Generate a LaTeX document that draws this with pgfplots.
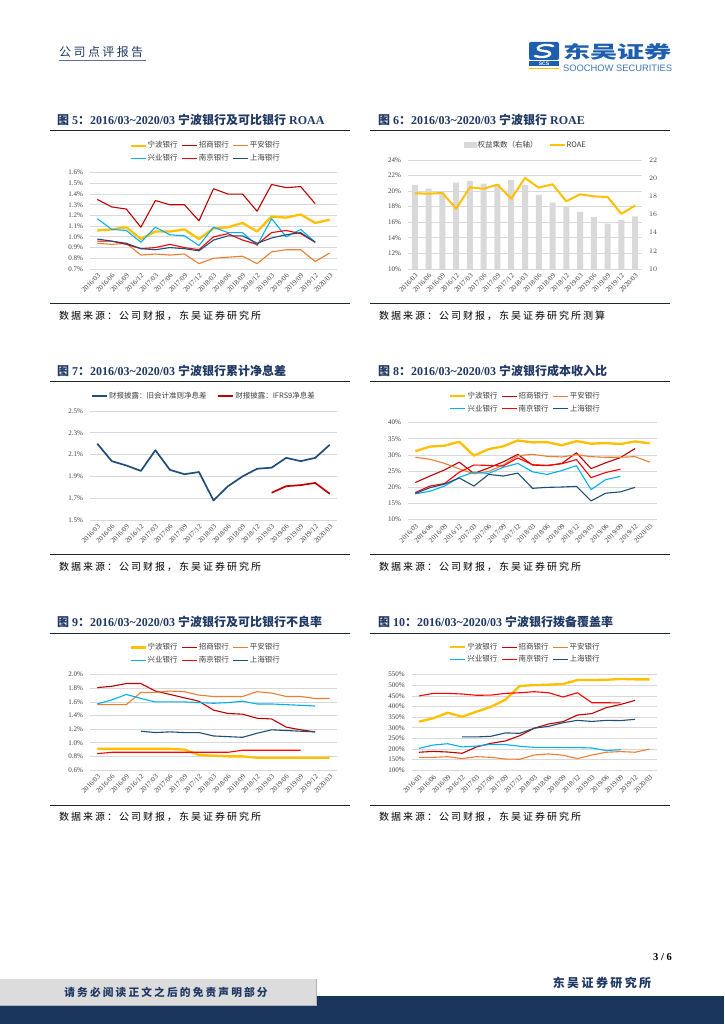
\documentclass[border=0pt]{standalone}
\usepackage{fontspec}
\usepackage{graphicx}
\usepackage{pgfplots}
\pgfplotsset{compat=1.18}
\setmainfont{Liberation Serif}
\newfontfamily\cjk{Noto Sans CJK SC}
\newfontfamily\cjksp[LetterSpace=20]{Noto Sans CJK SC}
\newfontfamily\logosans{Liberation Sans}

\definecolor{navy}{HTML}{1F3864}
\definecolor{band}{HTML}{1B365D}
\definecolor{rule}{HTML}{1E2633}
\definecolor{nbY}{HTML}{FFC000}
\definecolor{cmbR}{HTML}{C00000}
\definecolor{paO}{HTML}{ED7D31}
\definecolor{ibC}{HTML}{00B0F0}
\definecolor{njR}{HTML}{FF0000}
\definecolor{shB}{HTML}{1F4E79}
\definecolor{gridg}{HTML}{D9D9D9}
\definecolor{tickg}{HTML}{404040}
\definecolor{legg}{HTML}{404040}
\definecolor{barg}{HTML}{D9D9D9}
\definecolor{logoB}{HTML}{1D5FAE}
\definecolor{footg}{HTML}{DCDCDC}

\pgfplotsset{
  legend image code/.code={\draw[#1] (0pt,0pt) -- (15pt,0pt);},
  bank/.style={
    scale only axis, anchor=south west,
    xmin=-0.5, xmax=16.5,
    xtick={0,...,16},
    xticklabels={2016/03,2016/06,2016/09,2016/12,2017/03,2017/06,2017/09,2017/12,2018/03,2018/06,2018/09,2018/12,2019/03,2019/06,2019/09,2019/12,2020/03},
    x tick label style={rotate=45, anchor=north east, font=\fontsize{7}{7}\selectfont, text=tickg, inner sep=0.5pt},
    xticklabel shift=3pt,
    y tick label style={font=\fontsize{7}{8}\selectfont, text=tickg},
    yticklabel shift=3.5pt,
    major tick length=0pt,
    axis x line*=bottom, axis y line*=left,
    y axis line style={draw=none},
    x axis line style={draw=gridg, line width=0.8pt},
    ymajorgrids, grid style={draw=gridg, line width=0.8pt},
    no markers,
    every axis plot/.append style={line join=round},
    legend style={draw=none, fill=none, font=\cjk\fontsize{7.5}{9}\selectfont, text=legg, anchor=center,
      nodes={inner sep=1pt, text height=6pt, text depth=1.5pt},
      /tikz/every even column/.append style={column sep=3pt}, /tikz/row sep=3pt},
    legend cell align=left,
  },
  nb/.style={draw=nbY, line width=2.3pt},
  cmb/.style={draw=cmbR, line width=1.1pt},
  pa/.style={draw=paO, line width=1.1pt},
  ib/.style={draw=ibC, line width=1.1pt},
  nj/.style={draw=njR, line width=1.1pt},
  sh/.style={draw=shB, line width=1.1pt},
}

\begin{document}
\begin{tikzpicture}
\path[use as bounding box] (0pt,0pt) rectangle (724pt,1024pt);
\fill[white] (0pt,0pt) rectangle (724pt,1024pt);

% header
\node[anchor=west, inner sep=0pt, text=navy, font=\cjksp\fontsize{12}{14}\selectfont] at (59pt,972pt) {公司点评报告};
\draw[navy!70, line width=0.8pt] (59pt,964pt) -- (146pt,964pt);
% logo
\fill[logoB, rounded corners=2pt] (529pt,964pt) rectangle (559pt,982pt);
\draw[white, line width=2.4pt, line cap=round] (553pt,978pt) .. controls (541pt,982pt) and (531pt,974pt) .. (544pt,973pt) .. controls (557pt,972pt) and (547pt,964pt) .. (535pt,968pt);
\fill[logoB] (529pt,957.5pt) rectangle (559pt,962.5pt);
\node[inner sep=0pt, text=white, font=\logosans\bfseries\fontsize{5}{5}\selectfont] at (544pt,960pt) {SCS};
\draw[nbY, line width=1.2pt] (529pt,955.5pt) -- (559pt,955.5pt);
\node[anchor=west, inner sep=0pt, text=logoB] at (563pt,972pt) {\resizebox{109pt}{15pt}{\cjk\bfseries 东吴证券}};
\node[anchor=west, inner sep=0pt, text=logoB!85] at (563pt,956pt) {\resizebox{109pt}{!}{\logosans SOOCHOW SECURITIES}};

% frames row 1
\node[anchor=west, inner sep=0pt, text=navy, font=\bfseries\fontsize{12}{14}\selectfont] at (57pt,904pt) {{\cjk 图} 5{\cjk ：}2016/03\textasciitilde 2020/03 {\cjk 宁波银行及可比银行} ROAA};
\draw[rule, line width=1pt] (50pt,893pt) -- (350pt,893pt);
\draw[rule, line width=1pt] (50pt,720pt) -- (350pt,720pt);
\node[anchor=west, inner sep=0pt, font=\cjksp\fontsize{10}{12}\selectfont] at (59pt,708pt) {数据来源：公司财报，东吴证券研究所};
\node[anchor=west, inner sep=0pt, text=navy, font=\bfseries\fontsize{12}{14}\selectfont] at (378pt,904pt) {{\cjk 图} 6{\cjk ：}2016/03\textasciitilde 2020/03 {\cjk 宁波银行} ROAE};
\draw[rule, line width=1pt] (370pt,893pt) -- (670pt,893pt);
\draw[rule, line width=1pt] (370pt,720pt) -- (670pt,720pt);
\node[anchor=west, inner sep=0pt, font=\cjksp\fontsize{10}{12}\selectfont] at (379pt,708pt) {数据来源：公司财报，东吴证券研究所测算};
% row 2
\node[anchor=west, inner sep=0pt, text=navy, font=\bfseries\fontsize{12}{14}\selectfont] at (57pt,653pt) {{\cjk 图} 7{\cjk ：}2016/03\textasciitilde 2020/03 {\cjk 宁波银行累计净息差}};
\draw[rule, line width=1pt] (50pt,642.3pt) -- (350pt,642.3pt);
\draw[rule, line width=1pt] (50pt,469pt) -- (350pt,469pt);
\node[anchor=west, inner sep=0pt, font=\cjksp\fontsize{10}{12}\selectfont] at (59pt,457pt) {数据来源：公司财报，东吴证券研究所};
\node[anchor=west, inner sep=0pt, text=navy, font=\bfseries\fontsize{12}{14}\selectfont] at (378pt,653pt) {{\cjk 图} 8{\cjk ：}2016/03\textasciitilde 2020/03 {\cjk 宁波银行成本收入比}};
\draw[rule, line width=1pt] (370pt,642.3pt) -- (670pt,642.3pt);
\draw[rule, line width=1pt] (370pt,469pt) -- (670pt,469pt);
\node[anchor=west, inner sep=0pt, font=\cjksp\fontsize{10}{12}\selectfont] at (379pt,457pt) {数据来源：公司财报，东吴证券研究所};
% row 3
\node[anchor=west, inner sep=0pt, text=navy, font=\bfseries\fontsize{12}{14}\selectfont] at (57pt,401.7pt) {{\cjk 图} 9{\cjk ：}2016/03\textasciitilde 2020/03 {\cjk 宁波银行及可比银行不良率}};
\draw[rule, line width=1pt] (50pt,390.7pt) -- (350pt,390.7pt);
\draw[rule, line width=1pt] (50pt,218.3pt) -- (350pt,218.3pt);
\node[anchor=west, inner sep=0pt, font=\cjksp\fontsize{10}{12}\selectfont] at (59pt,207pt) {数据来源：公司财报，东吴证券研究所};
\node[anchor=west, inner sep=0pt, text=navy, font=\bfseries\fontsize{12}{14}\selectfont] at (378pt,401.7pt) {{\cjk 图} 10{\cjk ：}2016/03\textasciitilde 2020/03 {\cjk 宁波银行拨备覆盖率}};
\draw[rule, line width=1pt] (370pt,390.7pt) -- (670pt,390.7pt);
\draw[rule, line width=1pt] (370pt,218.3pt) -- (670pt,218.3pt);
\node[anchor=west, inner sep=0pt, font=\cjksp\fontsize{10}{12}\selectfont] at (379pt,207pt) {数据来源：公司财报，东吴证券研究所};

% footer
\node[anchor=east, inner sep=0pt, font=\bfseries\fontsize{10.5}{12}\selectfont] at (672pt,67pt) {3 / 6};
\node[inner sep=0pt, text=navy, font=\cjksp\bfseries\fontsize{12}{14}\selectfont] at (602pt,41pt) {东吴证券研究所};
\fill[band] (0pt,0pt) rectangle (724pt,28pt);
\fill[footg] (0pt,19pt) rectangle (316pt,45pt);
\draw[gray!60, line width=0.6pt] (0pt,19pt) -- (316pt,19pt) -- (316pt,45pt);
\node[inner sep=0pt, text=navy, font=\cjksp\bfseries\fontsize{10.7}{12}\selectfont] at (166pt,32pt) {请务必阅读正文之后的免责声明部分};

% ---- Fig 5 ROAA
\begin{axis}[bank, at={(90pt,755pt)}, width=247pt, height=96.3pt, ymin=0.7, ymax=1.6,
  ytick={0.7,0.8,0.9,1.0,1.1,1.2,1.3,1.4,1.5,1.6},
  yticklabels={0.7\%,0.8\%,0.9\%,1.0\%,1.1\%,1.2\%,1.3\%,1.4\%,1.5\%,1.6\%},
  legend columns=3, legend style={at={(0.466,1.215)}}]
\addplot[nb] coordinates {(0,1.06)(1,1.07)(2,1.09)(3,0.98)(4,1.05)(5,1.05)(6,1.07)(7,0.98)(8,1.08)(9,1.09)(10,1.13)(11,1.05)(12,1.19)(13,1.18)(14,1.21)(15,1.13)(16,1.16)};
\addlegendentry{宁波银行}
\addplot[cmb] coordinates {(0,1.35)(1,1.28)(2,1.26)(3,1.09)(4,1.34)(5,1.30)(6,1.30)(7,1.15)(8,1.45)(9,1.40)(10,1.40)(11,1.24)(12,1.49)(13,1.46)(14,1.47)(15,1.31)};
\addlegendentry{招商银行}
\addplot[pa] coordinates {(0,0.94)(1,0.93)(2,0.94)(3,0.83)(4,0.84)(5,0.83)(6,0.84)(7,0.75)(8,0.80)(9,0.81)(10,0.82)(11,0.75)(12,0.86)(13,0.88)(14,0.88)(15,0.77)(16,0.85)};
\addlegendentry{平安银行}
\addplot[ib] coordinates {(0,1.17)(1,1.07)(2,1.06)(3,0.95)(4,1.09)(5,1.02)(6,1.01)(7,0.92)(8,1.09)(9,1.04)(10,1.04)(11,0.92)(12,1.17)(13,1.00)(14,1.07)(15,0.95)};
\addlegendentry{兴业银行}
\addplot[nj] coordinates {(0,0.96)(1,0.96)(2,0.93)(3,0.89)(4,0.90)(5,0.93)(6,0.90)(7,0.88)(8,1.00)(9,1.03)(10,0.97)(11,0.93)(12,1.04)(13,1.06)(14,1.03)(15,0.95)};
\addlegendentry{南京银行}
\addplot[sh] coordinates {(0,0.98)(1,0.96)(2,0.94)(3,0.89)(4,0.88)(5,0.90)(6,0.89)(7,0.87)(8,0.97)(9,1.01)(10,1.01)(11,0.94)(12,0.99)(13,1.02)(14,1.04)(15,0.95)};
\addlegendentry{上海银行}
\end{axis}

% ---- Fig 6 ROAE (grid + left labels)
\begin{axis}[bank, at={(408pt,755pt)}, width=234pt, height=109pt, ymin=10, ymax=24,
  ytick={10,12,14,16,18,20,22,24},
  yticklabels={10\%,12\%,14\%,16\%,18\%,20\%,22\%,24\%}]
\addplot[draw=none] coordinates {(0,10)};
\end{axis}
\begin{axis}[bank, at={(408pt,755pt)}, width=234pt, height=109pt, ymin=10, ymax=22,
  axis y line*=right, ymajorgrids=false, ytick={10,12,14,16,18,20,22},
  xticklabels={}, x axis line style={draw=none}]
\addplot[ybar, bar width=6pt, bar shift=0pt, fill=barg, draw=none] coordinates {(0,19.25)(1,18.84)(2,18.4)(3,19.5)(4,19.69)(5,19.4)(6,19.36)(7,19.77)(8,19.25)(9,18.15)(10,17.3)(11,16.9)(12,16.3)(13,15.7)(14,15.0)(15,15.4)(16,15.8)};
\end{axis}
\begin{axis}[bank, at={(408pt,755pt)}, width=234pt, height=109pt, ymin=10, ymax=24, hide axis,
  legend columns=2, legend style={at={(0.502,1.138)}, /tikz/every even column/.append style={column sep=10pt}}]
\addlegendimage{legend image code/.code={\fill[barg] (0pt,-2.5pt) rectangle (12pt,2.5pt);}}
\addlegendentry{权益乘数（右轴）}
\addplot[draw=nbY, line width=2pt] coordinates {(0,19.72)(1,19.67)(2,19.76)(3,17.75)(4,20.49)(5,20.31)(6,20.83)(7,19.03)(8,21.69)(9,20.44)(10,20.88)(11,18.70)(12,19.59)(13,19.33)(14,19.25)(15,17.08)(16,18.15)};
\addlegendentry{ROAE}
\end{axis}

% ---- Fig 7 NIM
\begin{axis}[bank, at={(90pt,504pt)}, width=247pt, height=109pt, ymin=1.5, ymax=2.5,
  ytick={1.5,1.7,1.9,2.1,2.3,2.5},
  yticklabels={1.5\%,1.7\%,1.9\%,2.1\%,2.3\%,2.5\%},
  legend columns=2, legend style={at={(0.46,1.138)}, /tikz/every even column/.append style={column sep=10pt}}]
\addplot[draw=shB, line width=1.7pt] coordinates {(0,2.20)(1,2.04)(2,2.00)(3,1.95)(4,2.14)(5,1.96)(6,1.92)(7,1.94)(8,1.68)(9,1.81)(10,1.90)(11,1.97)(12,1.98)(13,2.07)(14,2.04)(15,2.07)(16,2.19)};
\addlegendentry{财报披露：旧会计准则净息差}
\addplot[draw=cmbR, line width=1.7pt] coordinates {(12,1.75)(13,1.81)(14,1.82)(15,1.84)(16,1.74)};
\addlegendentry{财报披露：IFRS9净息差}
\end{axis}

% ---- Fig 8 cost-income
\begin{axis}[bank, at={(408pt,504.3pt)}, width=249pt, height=97pt, ymin=10, ymax=40,
  ytick={10,15,20,25,30,35,40},
  yticklabels={10\%,15\%,20\%,25\%,30\%,35\%,40\%},
  legend columns=3, legend style={at={(0.47,1.208)}}]
\addplot[nb] coordinates {(0,31.2)(1,32.6)(2,32.9)(3,34.1)(4,29.8)(5,31.8)(6,32.7)(7,34.5)(8,33.9)(9,34.0)(10,33.0)(11,34.3)(12,33.5)(13,33.7)(14,33.4)(15,34.2)(16,33.6)};
\addlegendentry{宁波银行}
\addplot[cmb] coordinates {(0,21.5)(1,23.5)(2,25.4)(3,27.8)(4,24.3)(5,26.0)(6,27.9)(7,30.2)(8,26.9)(9,26.7)(10,27.4)(11,30.7)(12,25.8)(13,27.6)(14,29.2)(15,32.0)};
\addlegendentry{招商银行}
\addplot[pa] coordinates {(0,29.3)(1,28.7)(2,27.4)(3,25.7)(4,24.2)(5,24.9)(6,26.9)(7,29.8)(8,30.2)(9,29.6)(10,29.4)(11,30.1)(12,29.5)(13,29.3)(14,29.3)(15,29.5)(16,27.8)};
\addlegendentry{平安银行}
\addplot[ib] coordinates {(0,18.0)(1,18.8)(2,20.4)(3,23.1)(4,24.7)(5,24.3)(6,26.2)(7,27.4)(8,24.8)(9,24.0)(10,25.2)(11,26.7)(12,19.3)(13,22.4)(14,23.4)};
\addlegendentry{兴业银行}
\addplot[nj] coordinates {(0,18.4)(1,20.4)(2,21.2)(3,24.7)(4,26.9)(5,26.8)(6,26.6)(7,29.1)(8,27.0)(9,26.8)(10,27.3)(11,28.6)(12,23.0)(13,24.6)(14,25.6)};
\addlegendentry{南京银行}
\addplot[sh] coordinates {(0,18.1)(1,19.9)(2,21.0)(3,22.9)(4,20.4)(5,24.0)(6,23.5)(7,24.4)(8,19.7)(9,20.0)(10,20.1)(11,20.3)(12,15.8)(13,18.2)(14,18.6)(15,20.0)};
\addlegendentry{上海银行}
\end{axis}

% ---- Fig 9 NPL
\begin{axis}[bank, at={(90pt,254pt)}, width=247pt, height=95.3pt, ymin=0.6, ymax=2.0,
  ytick={0.6,0.8,1.0,1.2,1.4,1.6,1.8,2.0},
  yticklabels={0.6\%,0.8\%,1.0\%,1.2\%,1.4\%,1.6\%,1.8\%,2.0\%},
  legend columns=3, legend style={at={(0.466,1.219)}}]
\addplot[nb] coordinates {(0,0.91)(1,0.91)(2,0.91)(3,0.91)(4,0.91)(5,0.91)(6,0.90)(7,0.82)(8,0.81)(9,0.80)(10,0.80)(11,0.78)(12,0.78)(13,0.78)(14,0.78)(15,0.78)(16,0.78)};
\addlegendentry{宁波银行}
\addplot[cmb] coordinates {(0,1.81)(1,1.83)(2,1.87)(3,1.87)(4,1.76)(5,1.71)(6,1.66)(7,1.61)(8,1.48)(9,1.43)(10,1.42)(11,1.36)(12,1.35)(13,1.23)(14,1.19)(15,1.16)};
\addlegendentry{招商银行}
\addplot[pa] coordinates {(0,1.56)(1,1.56)(2,1.56)(3,1.74)(4,1.74)(5,1.76)(6,1.75)(7,1.70)(8,1.68)(9,1.68)(10,1.68)(11,1.75)(12,1.73)(13,1.68)(14,1.68)(15,1.65)(16,1.65)};
\addlegendentry{平安银行}
\addplot[ib] coordinates {(0,1.57)(1,1.63)(2,1.71)(3,1.65)(4,1.60)(5,1.60)(6,1.60)(7,1.59)(8,1.58)(9,1.59)(10,1.61)(11,1.57)(12,1.57)(13,1.56)(14,1.55)(15,1.54)};
\addlegendentry{兴业银行}
\addplot[nj] coordinates {(0,0.84)(1,0.86)(2,0.86)(3,0.86)(4,0.86)(5,0.86)(6,0.86)(7,0.86)(8,0.86)(9,0.86)(10,0.89)(11,0.89)(12,0.89)(13,0.89)(14,0.89)};
\addlegendentry{南京银行}
\addplot[sh] coordinates {(3,1.17)(4,1.15)(5,1.16)(6,1.15)(7,1.15)(8,1.10)(9,1.09)(10,1.08)(11,1.14)(12,1.19)(13,1.18)(14,1.17)(15,1.16)};
\addlegendentry{上海银行}
\end{axis}

% ---- Fig 10 coverage
\begin{axis}[bank, at={(411.7pt,253.7pt)}, width=245pt, height=95.6pt, ymin=100, ymax=550,
  ytick={100,150,200,250,300,350,400,450,500,550},
  yticklabels={100\%,150\%,200\%,250\%,300\%,350\%,400\%,450\%,500\%,550\%},
  legend columns=3, legend style={at={(0.462,1.222)}}]
\addplot[nb] coordinates {(0,329)(1,345)(2,371)(3,352)(4,376)(5,399)(6,432)(7,497)(8,501)(9,503)(10,506)(11,525)(12,525)(13,526)(14,530)(15,528)(16,528)};
\addlegendentry{宁波银行}
\addplot[cmb] coordinates {(0,185)(1,189)(2,186)(3,180)(4,210)(5,227)(6,238)(7,263)(8,298)(9,318)(10,329)(11,360)(12,367)(13,395)(14,410)(15,429)};
\addlegendentry{招商银行}
\addplot[pa] coordinates {(0,161)(1,161)(2,164)(3,155)(4,164)(5,161)(6,153)(7,152)(8,172)(9,177)(10,171)(11,155)(12,172)(13,185)(14,188)(15,185)(16,200)};
\addlegendentry{平安银行}
\addplot[ib] coordinates {(0,203)(1,219)(2,225)(3,210)(4,214)(5,222)(6,221)(7,213)(8,208)(9,208)(10,207)(11,207)(12,205)(13,193)(14,197)};
\addlegendentry{兴业银行}
\addplot[nj] coordinates {(0,450)(1,462)(2,462)(3,459)(4,453)(5,454)(6,462)(7,465)(8,470)(9,465)(10,445)(11,465)(12,418)(13,418)(14,417)};
\addlegendentry{南京银行}
\addplot[sh] coordinates {(3,257)(4,257)(5,260)(6,276)(7,274)(8,298)(9,307)(10,324)(11,335)(12,330)(13,335)(14,334)(15,340)};
\addlegendentry{上海银行}
\end{axis}
\end{tikzpicture}
\end{document}
